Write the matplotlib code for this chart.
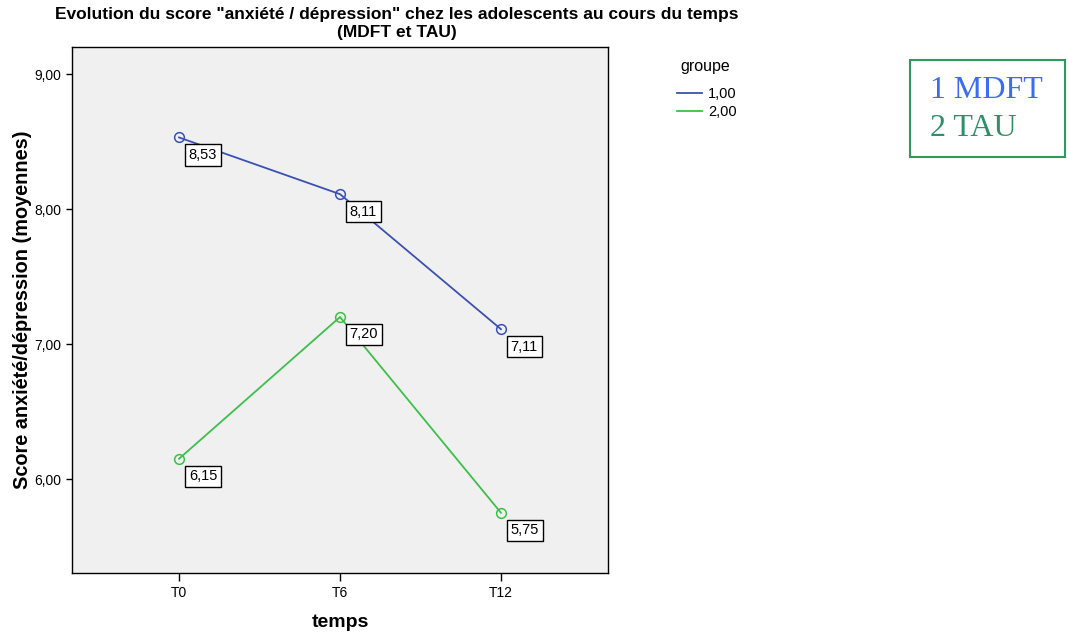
import matplotlib
matplotlib.use("Agg")
import matplotlib.pyplot as plt
from matplotlib.lines import Line2D

temps = ["T0", "T6", "T12"]
groupes = ["1,00", "2,00"]
mdft = [8.53, 8.11, 7.11]
tau = [6.15, 7.20, 5.75]
yticks = [6.0, 7.0, 8.0, 9.0]

plt.rcParams['font.family'] = ['Liberation Sans', 'DejaVu Sans']

W, H = 1068, 636
fig = plt.figure(figsize=(W/100, H/100), dpi=100)
ax = fig.add_axes([72/W, 1-573/H, (608-72)/W, (573-47)/H])
ax.set_facecolor('#f0f0f0')

x = list(range(len(temps)))
colors = ['#3a50b4', '#3cc04a']
for vals, c in zip([mdft, tau], colors):
    ax.plot(x, vals, color=c, lw=1.3, marker='o', mfc='none', mec=c, ms=7, mew=1.1)
    for xi, v in zip(x, vals):
        ax.annotate(f"{v:.2f}".replace('.', ','), (xi, v), xytext=(7, -7.5),
                    textcoords='offset points', ha='left', va='top', fontsize=10.5,
                    bbox=dict(boxstyle='square,pad=0.25', fc='white', ec='black', lw=1))

ax.set_xlim(-0.665, 2.665)
ax.set_ylim(5.304, 9.2)
ax.set_xticks(x)
ax.set_xticklabels(temps, fontsize=10)
ax.set_yticks(yticks)
ax.set_yticklabels([f"{t:.2f}".replace('.', ',') for t in yticks], fontsize=10)
ax.tick_params(axis='x', direction='out', length=6, width=1)
ax.tick_params(axis='y', direction='out', length=4, width=1)
for s in ax.spines.values():
    s.set_linewidth(1)
ax.set_xlabel("temps", fontsize=14, fontweight='bold', labelpad=10)
ax.set_ylabel("Score anxiété/dépression (moyennes)", fontsize=14.3, fontweight='bold', labelpad=2)

fig.text(397/W, 1-15/H, 'Evolution du score "anxiété / dépression" chez les adolescents au cours du temps',
         ha='center', va='center', fontsize=12.5, fontweight='bold')
fig.text(397/W, 1-32/H, '(MDFT et TAU)', ha='center', va='center', fontsize=12.5, fontweight='bold')

fig.text(705/W, 1-67/H, 'groupe', ha='center', va='center', fontsize=11.5)
handles = [Line2D([], [], color=c, lw=1.3) for c in colors]
leg = fig.legend(handles, groupes, loc='upper left', bbox_to_anchor=(673/W, 1-83/H),
                 frameon=False, fontsize=10.5, handlelength=1.7,
                 handletextpad=0.4, labelspacing=0.25, borderaxespad=0, borderpad=0.3)

# annotation box on the right
fig.patches.append(plt.Rectangle((910/W, 1-157/H), 155/W, 97/H, transform=fig.transFigure,
                                 fill=False, ec='#2e9a5e', lw=1.5))
fig.text(930/W, 1-91/H, '1 MDFT', color='#3a6cf4', fontsize=23, family=['Liberation Serif'],
         va='center', ha='left')
fig.text(930/W, 1-128/H, '2 TAU', color='#2e9068', fontsize=23, family=['Liberation Serif'],
         va='center', ha='left')

fig.savefig('out.png', dpi=100)
